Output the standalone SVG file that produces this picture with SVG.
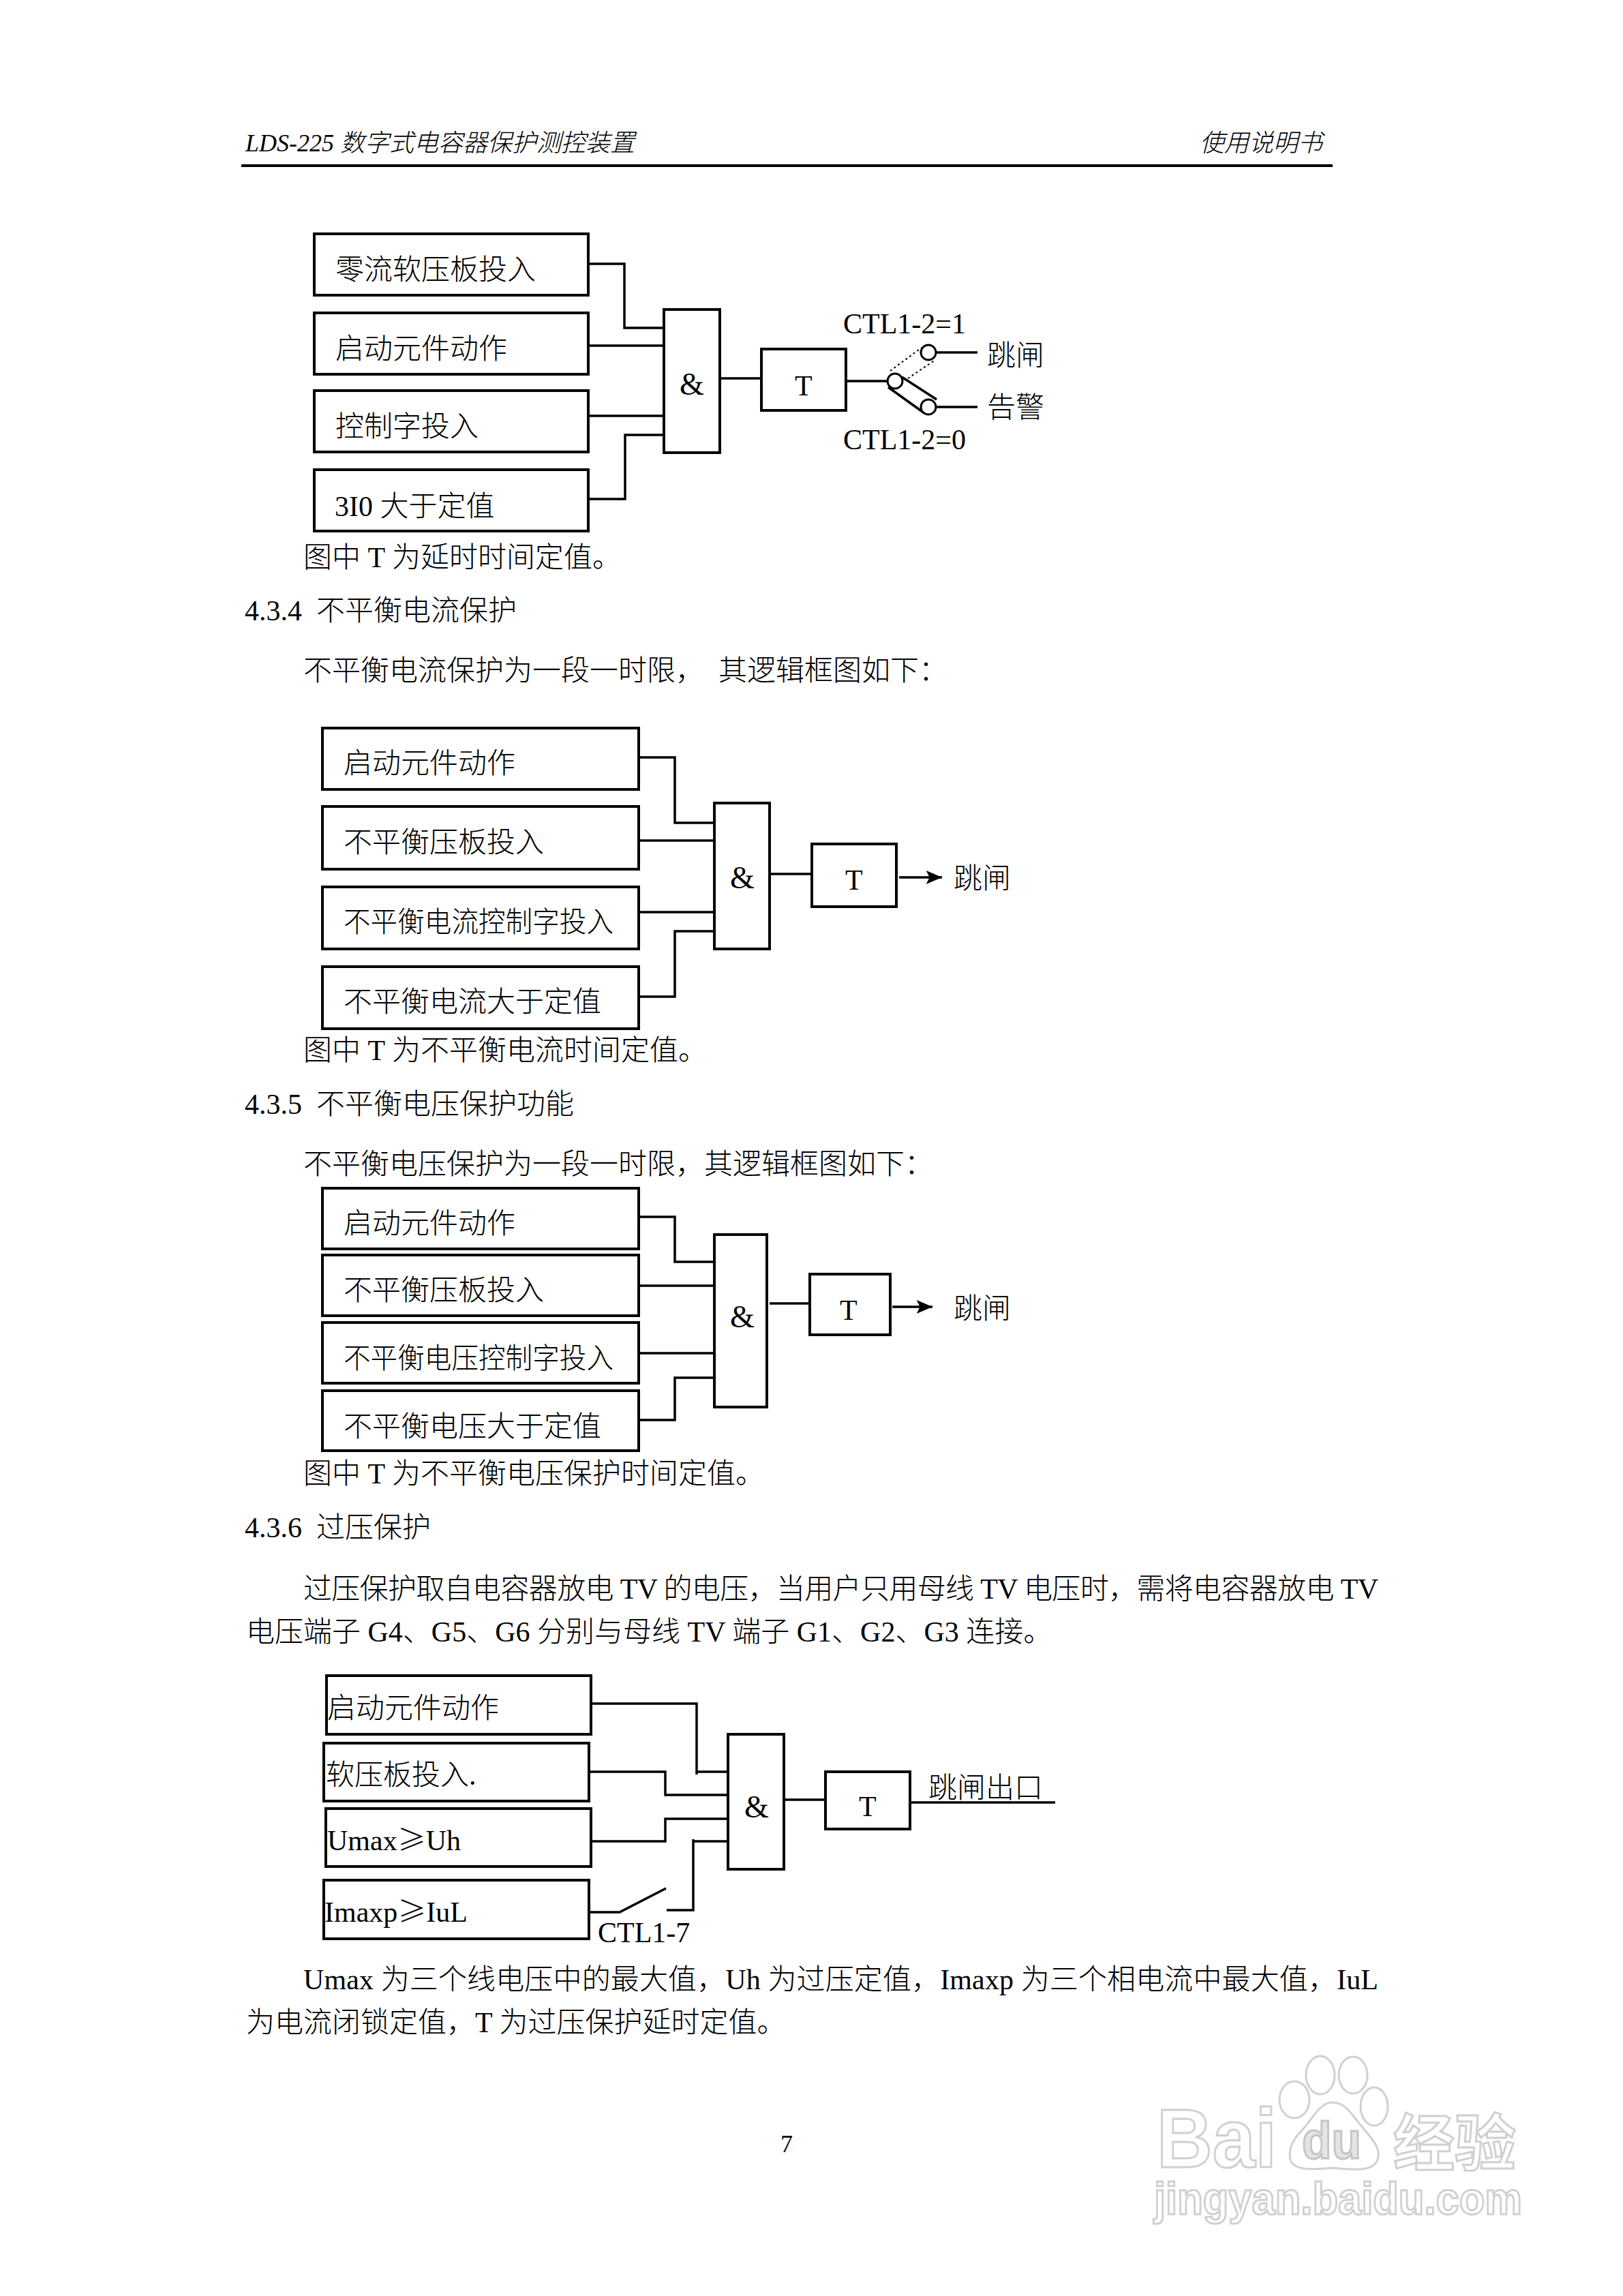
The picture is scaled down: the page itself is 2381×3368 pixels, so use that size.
<svg xmlns="http://www.w3.org/2000/svg" width="2381" height="3368" viewBox="0 0 2381 3368">
<style>
text{font-family:"Liberation Serif","Noto Sans CJK SC",serif;font-size:42px;font-weight:300;fill:#000;white-space:pre}
.hd{font-size:36px;font-style:italic}
.cjk{font-family:"Noto Sans CJK SC",serif}
.b{fill:#fff;stroke:#000;stroke-width:4}
.w{fill:none;stroke:#000;stroke-width:3.5}
.d{fill:none;stroke:#000;stroke-width:2;stroke-dasharray:3 4}
.c{fill:#fff;stroke:#000;stroke-width:3}
.wm{fill:#fff;stroke:#d0d0d0;stroke-width:3;font-family:"Liberation Sans","Noto Sans CJK SC",sans-serif;font-weight:700}
.wme{fill:#fff;stroke:#d0d0d0;stroke-width:3}
</style>
<defs><marker id="arr" viewBox="0 0 14 12" refX="14" refY="6" markerWidth="24" markerHeight="20" markerUnits="userSpaceOnUse" orient="auto"><path d="M0,0L14,6L0,12L3,6z" fill="#000"/></marker></defs>
<rect width="2381" height="3368" fill="#fff"/>

<g id="watermark">
<ellipse class="wme" cx="1899" cy="3080" rx="22" ry="27"/>
<ellipse class="wme" cx="1937" cy="3044" rx="21" ry="28"/>
<ellipse class="wme" cx="1985" cy="3044" rx="21" ry="27"/>
<ellipse class="wme" cx="2016" cy="3090" rx="20" ry="28"/>
<path class="wme" d="M1955,3084C1935,3084 1925,3110 1910,3125C1895,3140 1890,3155 1893,3168C1897,3184 1925,3183 1955,3180C1985,3183 2015,3186 2021,3168C2027,3150 2010,3135 2000,3122C1985,3105 1975,3084 1955,3084Z"/>
<text class="wm" x="1697" y="3179" style="font-size:122px" textLength="176" lengthAdjust="spacingAndGlyphs">Bai</text>
<text class="wm" x="1910" y="3166" style="font-size:76px;fill:#e4e4e4;stroke:#c4c4c4" textLength="87" lengthAdjust="spacingAndGlyphs">du</text>
<text class="wm" x="2044" y="3176" style="font-size:90px">经验</text>
<text class="wm" x="1693" y="3248" style="font-size:66px" textLength="540" lengthAdjust="spacingAndGlyphs">jingyan.baidu.com</text>
</g>

<g id="page-text">
<text class="hd" x="360" y="222">LDS-225 数字式电容器保护测控装置</text>
<text class="hd" x="1760" y="222">使用说明书</text>
<text x="445" y="832">图中 T 为延时时间定值。</text>
<text x="359" y="910">4.3.4  不平衡电流保护</text>
<text x="445" y="998">不平衡电流保护为一段一时限，  其逻辑框图如下：</text>
<text x="445" y="1555">图中 T 为不平衡电流时间定值。</text>
<text x="359" y="1634">4.3.5  不平衡电压保护功能</text>
<text x="445" y="1722">不平衡电压保护为一段一时限，其逻辑框图如下：</text>
<text x="445" y="2176">图中 T 为不平衡电压保护时间定值。</text>
<text x="359" y="2255">4.3.6  过压保护</text>
<text x="445" y="2345" textLength="1577">过压保护取自电容器放电 TV 的电压，当用户只用母线 TV 电压时，需将电容器放电 TV</text>
<text x="361" y="2408">电压端子 G4、G5、G6 分别与母线 TV 端子 G1、G2、G3 连接。</text>
<text x="445" y="2918" textLength="1577">Umax 为三个线电压中的最大值，Uh 为过压定值，Imaxp 为三个相电流中最大值，IuL</text>
<text x="361" y="2981">为电流闭锁定值，T 为过压保护延时定值。</text>
<text x="1145" y="3157" style="font-size:36px">7</text>
</g>

<g id="connectors">
<path d="M354,243H1955" fill="none" stroke="#000" stroke-width="4"/>
<path class="w" d="M863,387H916V481H974M863,507H974M863,610H974M863,732H917V638H974M1056,555H1117M1241,559H1303M1372,517H1434M1372,597H1434"/>
<path class="d" d="M1306,544L1352,510M1332,555L1372,528"/>
<path class="w" d="M1303,568L1356,606M1323,553L1374,586"/>
<path class="w" d="M937,1111H990V1207H1048M937,1233H1048M937,1338H1048M937,1462H990V1366H1048M1129,1282H1191"/>
<path class="w" d="M1319,1287H1382" marker-end="url(#arr)"/>
<path class="w" d="M937,1785H990V1851H1048M937,1886H1048M937,1985H1048M937,2083H990V2021H1048M1129,1912H1188"/>
<path class="w" d="M1309,1917H1368" marker-end="url(#arr)"/>
<path class="w" d="M867,2499H1022V2603M1022,2599H1068M864,2599H976V2633H1068M867,2701H976V2668H1068M1070,2701H1017V2698V2802H978M864,2805H909L977,2770M1150,2640H1211M1335,2644H1548"/>
</g>

<g id="d1-in1"><rect class="b" x="461" y="343" width="402" height="90"/><text x="492" y="410">零流软压板投入</text></g>
<g id="d1-in2"><rect class="b" x="461" y="459" width="402" height="90"/><text x="492" y="526">启动元件动作</text></g>
<g id="d1-in3"><rect class="b" x="461" y="573" width="402" height="90"/><text x="492" y="640">控制字投入</text></g>
<g id="d1-in4"><rect class="b" x="461" y="689" width="402" height="90"/><text x="491" y="757">3I0 大于定值</text></g>
<g id="d1-and"><rect class="b" x="974" y="454" width="82" height="210"/><text x="997" y="579" style="font-size:46px">&amp;</text></g>
<g id="d1-t"><rect class="b" x="1117" y="512" width="124" height="90"/><text x="1166" y="580">T</text></g>
<g id="d1-switch">
<circle class="c" cx="1313" cy="559" r="11"/><circle class="c" cx="1362" cy="517" r="11"/><circle class="c" cx="1362" cy="597" r="11"/>
<text x="1237" y="489">CTL1-2=1</text><text x="1237" y="659">CTL1-2=0</text>
<text x="1448" y="536">跳闸</text><text x="1448" y="612">告警</text>
</g>

<g id="d2-in1"><rect class="b" x="473" y="1068" width="464" height="90"/><text x="504" y="1134">启动元件动作</text></g>
<g id="d2-in2"><rect class="b" x="473" y="1183" width="464" height="92"/><text x="504" y="1250">不平衡压板投入</text></g>
<g id="d2-in3"><rect class="b" x="473" y="1301" width="464" height="91"/><text x="504" y="1367" textLength="396" lengthAdjust="spacingAndGlyphs">不平衡电流控制字投入</text></g>
<g id="d2-in4"><rect class="b" x="473" y="1418" width="464" height="91"/><text x="504" y="1484">不平衡电流大于定值</text></g>
<g id="d2-and"><rect class="b" x="1048" y="1178" width="81" height="214"/><text x="1071" y="1303" style="font-size:46px">&amp;</text></g>
<g id="d2-t"><rect class="b" x="1191" y="1238" width="124" height="92"/><text x="1240" y="1305">T</text></g>
<g id="d2-out"><text x="1399" y="1303">跳闸</text></g>

<g id="d3-in1"><rect class="b" x="473" y="1743" width="464" height="89"/><text x="504" y="1809">启动元件动作</text></g>
<g id="d3-in2"><rect class="b" x="473" y="1841" width="464" height="89"/><text x="504" y="1907">不平衡压板投入</text></g>
<g id="d3-in3"><rect class="b" x="473" y="1940" width="464" height="89"/><text x="504" y="2007" textLength="396" lengthAdjust="spacingAndGlyphs">不平衡电压控制字投入</text></g>
<g id="d3-in4"><rect class="b" x="473" y="2040" width="464" height="88"/><text x="504" y="2107">不平衡电压大于定值</text></g>
<g id="d3-and"><rect class="b" x="1048" y="1811" width="77" height="253"/><text x="1071" y="1947" style="font-size:46px">&amp;</text></g>
<g id="d3-t"><rect class="b" x="1188" y="1869" width="118" height="89"/><text x="1232" y="1936">T</text></g>
<g id="d3-out"><text x="1399" y="1934">跳闸</text></g>

<g id="d4-in1"><rect class="b" x="479" y="2458" width="388" height="86"/><text x="480" y="2520">启动元件动作</text></g>
<g id="d4-in2"><rect class="b" x="475" y="2557" width="389" height="85"/><text x="478" y="2618">软压板投入.</text></g>
<g id="d4-in3"><rect class="b" x="478" y="2653" width="389" height="85"/><text x="480" y="2714">Umax<tspan class="cjk">≥</tspan>Uh</text></g>
<g id="d4-in4"><rect class="b" x="475" y="2758" width="389" height="86"/><text x="476" y="2819">Imaxp<tspan class="cjk">≥</tspan>IuL</text></g>
<g id="d4-and"><rect class="b" x="1068" y="2544" width="82" height="198"/><text x="1092" y="2666" style="font-size:46px">&amp;</text></g>
<g id="d4-t"><rect class="b" x="1211" y="2599" width="124" height="84"/><text x="1260" y="2664">T</text></g>
<g id="d4-out"><text x="1362" y="2637">跳闸出口</text></g>
<g id="d4-switch"><text x="877" y="2849">CTL1-7</text></g>
</svg>
